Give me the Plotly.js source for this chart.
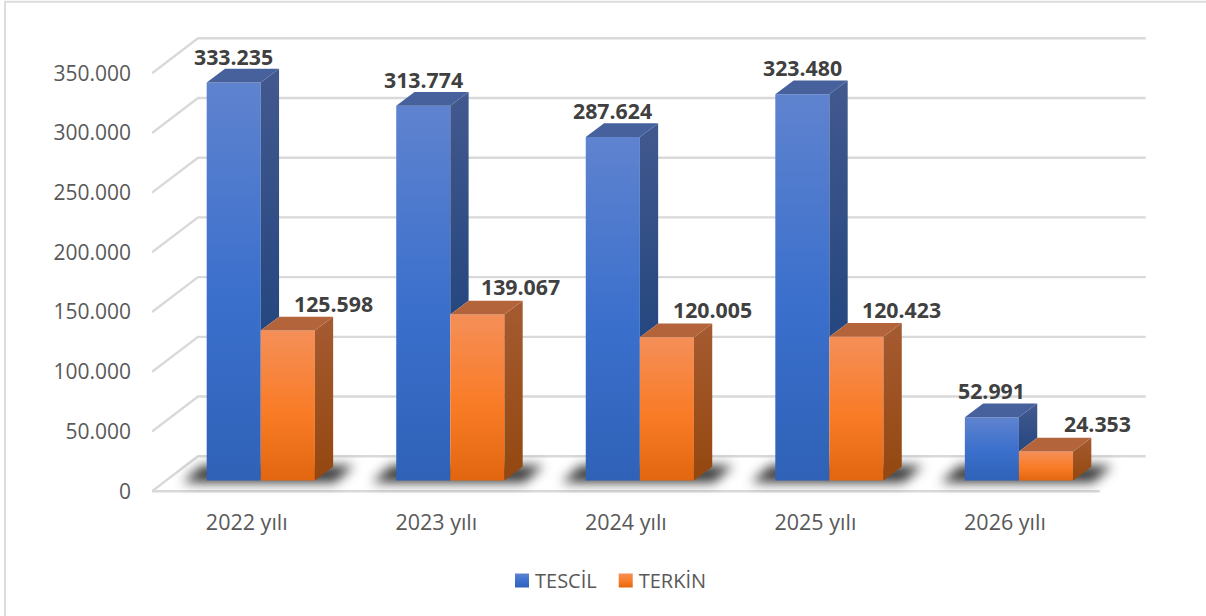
<!DOCTYPE html>
<html><head><meta charset="utf-8">
<script src="https://cdn.plot.ly/plotly-3.0.1.min.js"></script>
<style>html,body{margin:0;padding:0;background:#fff}#c{width:1206px;height:616px}</style>
</head><body><div id="c"></div>
<script>
const categories = ['2022 yılı','2023 yılı','2024 yılı','2025 yılı','2026 yılı'];
const tescil = [333235,313774,287624,323480,52991];
const terkin = [125598,139067,120005,120423,24353];
const yTicks = [0,50000,100000,150000,200000,250000,300000,350000];

// projection constants (px), converted to axis units
const pxX = 189.6, pxY = 59.8/50000;
const L = 152, floorFrontY = 491.7;
const yMinV = -4000, yMaxV = 382000;
const xMinV = -0.5, xMaxV = 4.76;
const mT = floorFrontY - yMaxV*pxY, mB = 616 - (floorFrontY - yMinV*pxY);
const mR = 1206 - (L + (xMaxV-xMinV)*pxX);
const barW = 54.1/pxX, off1 = -40.1/pxX, off2 = off1 + barW;
const base = 10.7/pxY;
const dX = 18.3/pxX, dY = 13.7/pxY;
const wallX = 46/pxX, wallY = 35/pxY;
const fmt = v => String(v).replace(/\B(?=(\d{3})+$)/g,'.');
const xs = categories.map((_,i)=>i);

const shapes = [];
// frame
shapes.push({type:'rect',xref:'paper',yref:'paper',layer:'below',
  x0:(5-L)/((xMaxV-xMinV)*pxX), x1:(1300-L)/((xMaxV-xMinV)*pxX),
  y0:(616-mB-700)/(616-mT-mB), y1:(616-mB-1.5)/(616-mT-mB),
  line:{color:'#dcdcdc',width:2},fillcolor:'rgba(0,0,0,0)'});
// wall + side grid
yTicks.forEach(v=>{
  const xa=xMinV, xb=xMinV+wallX, xc=4.5+wallX;
  shapes.push({type:'path',xref:'x',yref:'y',layer:'below',
    path:`M${xa},${v}L${xb},${v+wallY}L${xc},${v+wallY}`,
    line:{color:'#d9d9d9',width:2.4}});
});
shapes.push({type:'line',xref:'x',yref:'y',layer:'below',x0:xMinV,x1:4.5,y0:0,y1:0,line:{color:'#d9d9d9',width:2.4}});
// floor shadows
xs.forEach(i=>{
  const a=i+off1-24/pxX, b=i+off2+barW+20/pxX, s=19/pxX;
  const y0=base-2/pxY, y1=base+15/pxY;
  shapes.push({type:'path',xref:'x',yref:'y',layer:'below',
    path:`M${a},${y0}L${a+s},${y1}L${b+s},${y1}L${b},${y0}Z`,
    fillcolor:'rgba(20,20,20,0.85)',line:{width:0}});
});

const poly = (x,y,color,grad)=>{
  const t={type:'scatter',mode:'lines',x:x,y:y,fill:'toself',line:{width:0},
    fillcolor:color,showlegend:false,hoverinfo:'skip',cliponaxis:false};
  if(grad) t.fillgradient={type:'vertical',colorscale:[[0,grad[0]],[1,grad[1]]]};
  return t;
};
const traces=[
  {type:'bar',name:'TESCİL',x:xs,y:tescil,base:base,width:barW,offset:off1,
    marker:{color:'#3a6fcc',line:{width:0}},hoverinfo:'y'},
  {type:'bar',name:'TERKİN',x:xs,y:terkin,base:base,width:barW,offset:off2,
    marker:{color:'#f97b26',line:{width:0}},hoverinfo:'y'}
];
xs.forEach(i=>{
  const r1=i+off2, r2=i+off2+barW;
  const t1=tescil[i]+base, t2=terkin[i]+base;
  // side of first series: only the part not hidden by the second series
  traces.push(poly([r1,r1+dX,r1+dX,r1,r1],[t1,t1+dY,t2+dY,t2,t1],'#34508a',['#25477f','#42598f']));
  traces.push(poly([r1-barW,r1,r1+dX,r1-barW+dX,r1-barW],[t1,t1,t1+dY,t1+dY,t1],'#46619c'));
  traces.push(poly([r2,r2+dX,r2+dX,r2,r2],[t2,t2+dY,base+dY,base,t2],'#9c5020',['#94470f','#a55b31']));
  traces.push(poly([r1,r2,r2+dX,r1+dX,r1],[t2,t2,t2+dY,t2+dY,t2],'#b4643b'));
});

const nudge2=[46,43,46,45,52];
const ann=[];
xs.forEach(i=>{
  ann.push({x:i+off1+barW/2,y:tescil[i]+base,xref:'x',yref:'y',text:fmt(tescil[i]),showarrow:false,
    yanchor:'middle',yshift:26.5,font:{family:'Open Sans',size:21.3,color:'#404040',weight:700}});
  ann.push({x:i+off2+barW/2,y:terkin[i]+base,xref:'x',yref:'y',text:fmt(terkin[i]),showarrow:false,
    xshift:nudge2[i],yanchor:'middle',yshift:27.5,font:{family:'Open Sans',size:21.3,color:'#404040',weight:700}});
});

const layout={
  width:1206,height:616,autosize:false,paper_bgcolor:'#fff',plot_bgcolor:'rgba(0,0,0,0)',
  margin:{l:L,r:mR,t:mT,b:mB,pad:0},
  separators:',.',
  barmode:'overlay',
  font:{family:'Open Sans',color:'#595959'},
  xaxis:{range:[xMinV,xMaxV],tickmode:'array',tickvals:xs,ticktext:categories,showgrid:false,zeroline:false,
    showline:false,ticks:'',ticklen:0,tickfont:{size:21.5,color:'#595959'},fixedrange:true,automargin:false,ticklabelstandoff:11},
  yaxis:{range:[yMinV,yMaxV],tickmode:'array',tickvals:yTicks,tickformat:',d',showgrid:false,zeroline:false,
    showline:false,ticks:'',ticklen:0,tickfont:{size:21,color:'#595959'},fixedrange:true,automargin:false,ticklabelstandoff:20},
  legend:{orientation:'h',xref:'container',yref:'container',x:502/1206,y:1-561/616,xanchor:'left',yanchor:'top',font:{size:20,color:'#595959'},
    bgcolor:'rgba(0,0,0,0)',itemwidth:30,traceorder:'normal'},
  shapes:shapes,annotations:ann,showlegend:true
};
Plotly.newPlot('c',traces,layout,{displayModeBar:false,staticPlot:true}).then(gd=>{
  const svg=gd.querySelector('svg.main-svg');
  const NS='http://www.w3.org/2000/svg';
  const defs=document.createElementNS(NS,'defs');
  const stops={gBlue:['#5f83cf','#3a6fcc','#2f62b7'],gOrange:['#f58f58','#f97b26','#e2660f']};
  Object.keys(stops).forEach(id=>{
    const g=document.createElementNS(NS,'linearGradient');
    g.setAttribute('id',id);g.setAttribute('x1','0');g.setAttribute('y1','0');g.setAttribute('x2','0');g.setAttribute('y2','1');
    stops[id].forEach((c,k)=>{const s=document.createElementNS(NS,'stop');s.setAttribute('offset',[0,0.55,1][k]);s.setAttribute('stop-color',c);g.appendChild(s);});
    defs.appendChild(g);
  });
  svg.insertBefore(defs,svg.firstChild);
  gd.querySelectorAll('.barlayer .trace').forEach((t,k)=>{
    t.querySelectorAll('path').forEach(p=>{p.style.fill=`url(#${k?'gOrange':'gBlue'})`;});
  });
  gd.querySelectorAll('.legend .traces').forEach((t,k)=>{
    t.querySelectorAll('.legendpoints path').forEach(p=>{p.setAttribute('d','M7,7H-7V-7H7Z');p.style.fill=`url(#${k?'gOrange':'gBlue'})`;});
    const tx=t.querySelector('.legendtext');
    tx.setAttribute('x',+tx.getAttribute('x')-7);
    if(k){const m=/translate\(([-\d.]+),\s*([-\d.]+)\)/.exec(t.getAttribute('transform'));
      if(m) t.setAttribute('transform',`translate(${+m[1]-3},${m[2]})`);}
  });
  Array.from(gd.querySelectorAll('.shapelayer path')).filter(p=>/20, ?20, ?20/.test(p.style.fill)).forEach(p=>{p.style.filter='blur(6px)';});
});
</script></body></html>
